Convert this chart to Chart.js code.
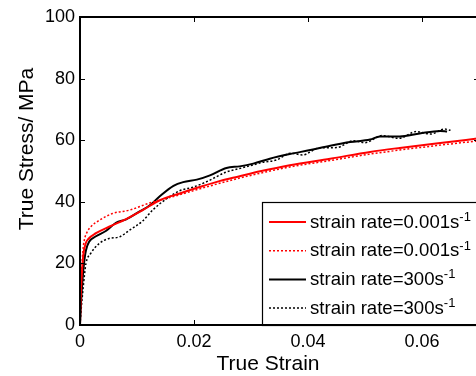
<!DOCTYPE html>
<html>
<head>
<meta charset="utf-8">
<script src="https://cdn.jsdelivr.net/npm/chart.js@4.4.0/dist/chart.umd.min.js"></script>
<style>
html, body { margin: 0; padding: 0; background: #fff; overflow: hidden; }
#wrap { width: 476px; height: 376px; overflow: hidden; }
canvas { display: block; }
</style>
</head>
<body>
<div id="wrap"><canvas id="stressChart" width="484" height="376"></canvas></div>
<script>
// Axis ticks
const strainTicks = [0, 0.02, 0.04, 0.06];
const stressTicks = [0, 20, 40, 60, 80, 100];

// Legend labels (superscript drawn separately)
const seriesLabels = ['strain rate=0.001s', 'strain rate=0.001s', 'strain rate=300s', 'strain rate=300s'];
const labelSup = '-1';

// Red solid - 0.001/s
const redSolidStrain = [0, 0.0001, 0.0003, 0.0006, 0.001, 0.0015, 0.0028, 0.0051, 0.0081, 0.011, 0.014, 0.0175, 0.021, 0.0246, 0.028, 0.0316, 0.0368, 0.0439, 0.0509, 0.0561, 0.0632, 0.07];
const redSolidStress = [0, 8, 16, 23, 26.5, 28, 29.8, 31.9, 34.4, 37.3, 40.5, 42.7, 44.8, 46.8, 48.3, 49.9, 51.9, 54, 56.2, 57.5, 59.1, 60.6];

// Red dotted - 0.001/s
const redDotStrain = [0, 0.0001, 0.0003, 0.0005, 0.00075, 0.0012, 0.0019, 0.0034, 0.0057, 0.0087, 0.0122, 0.016, 0.021, 0.028, 0.0368, 0.0439, 0.0509, 0.0561, 0.0632, 0.07];
const redDotStress = [0, 9, 18, 24, 27.5, 30, 31.9, 34, 36.2, 37.3, 39.6, 41.5, 44.2, 47.7, 51.3, 53.4, 55.5, 56.8, 58.4, 59.8];

// Black solid - 300/s
const blackSolidStrain = [0, 0.0002, 0.0005, 0.0008, 0.00105, 0.0016, 0.0028, 0.0046, 0.0063, 0.0081, 0.0104, 0.0122, 0.014, 0.0164, 0.0181, 0.0205, 0.0228, 0.0257, 0.028, 0.0304, 0.0333, 0.0368, 0.0404, 0.0439, 0.0474, 0.0509, 0.0526, 0.0561, 0.0596, 0.0632, 0.0644];
const blackSolidStress = [0, 8, 16, 21.5, 24.3, 27, 28.8, 30.6, 33.2, 34.3, 36.8, 38.8, 41.8, 45.2, 46.4, 47.2, 48.6, 51, 51.5, 52.4, 54, 55.5, 56.8, 58.2, 59.4, 60.2, 61.2, 61.2, 62.2, 63, 62.8];

// Black dotted - 300/s
const blackDotStrain = [0, 0.0002, 0.0005, 0.0008, 0.00105, 0.0019, 0.0034, 0.0051, 0.0069, 0.0087, 0.011, 0.0129, 0.0152, 0.0175, 0.0199, 0.0222, 0.0257, 0.028, 0.0304, 0.032, 0.0345, 0.037, 0.039, 0.042, 0.045, 0.048, 0.05, 0.053, 0.056, 0.059, 0.0615, 0.064, 0.065];
const blackDotStress = [0, 5, 11, 16.5, 20, 23.3, 26.5, 28.1, 28.6, 30.8, 33.8, 37.6, 41, 43.6, 44.8, 46.5, 49.7, 50.8, 52, 52.8, 53.6, 55.8, 55.2, 57.5, 57.6, 59.8, 59.2, 61.5, 60.6, 62.8, 62, 63.6, 63.2];

const FONT = '"Liberation Sans", Arial, sans-serif';

function toPoints(xs, ys) {
    return xs.map((x, i) => ({ x: x, y: ys[i] }));
}

const seriesStyles = [
    { color: '#ff0000', width: 2, dash: [] },
    { color: '#ff0000', width: 1.5, dash: [2, 2] },
    { color: '#000000', width: 2, dash: [] },
    { color: '#000000', width: 1.5, dash: [2, 2] }
];

const seriesData = [
    toPoints(redSolidStrain, redSolidStress),
    toPoints(redDotStrain, redDotStress),
    toPoints(blackSolidStrain, blackSolidStress),
    toPoints(blackDotStrain, blackDotStress)
];

// Frame, inward ticks, titles and the boxed legend
const framePlugin = {
    id: 'frame',
    afterDraw(chart) {
        const { ctx, chartArea: a, scales: { x, y } } = chart;
        ctx.save();
        ctx.strokeStyle = '#000';
        ctx.lineWidth = 1;
        ctx.setLineDash([]);
        strainTicks.slice(1).forEach(v => {
            const px = Math.round(x.getPixelForValue(v)) + 0.5;
            ctx.beginPath();
            ctx.moveTo(px, a.bottom); ctx.lineTo(px, a.bottom - 5);
            ctx.moveTo(px, a.top); ctx.lineTo(px, a.top + 5);
            ctx.stroke();
        });
        stressTicks.slice(1, -1).forEach(v => {
            const py = Math.round(y.getPixelForValue(v)) + 0.5;
            ctx.beginPath();
            ctx.moveTo(a.left, py); ctx.lineTo(a.left + 5, py);
            ctx.moveTo(a.right, py); ctx.lineTo(a.right - 5, py);
            ctx.stroke();
        });

        // legend box
        const lx = 262, ly = 202;
        ctx.fillStyle = '#fff';
        ctx.fillRect(lx, ly, a.right - lx, a.bottom - ly);
        ctx.lineWidth = 1.2;
        ctx.strokeRect(lx + 0.5, ly + 0.5, a.right - lx, a.bottom - ly);

        seriesLabels.forEach((label, i) => {
            const rowY = 222 + i * 28.7;
            const st = seriesStyles[i];
            ctx.strokeStyle = st.color;
            ctx.lineWidth = st.width;
            ctx.setLineDash(st.dash);
            ctx.beginPath();
            ctx.moveTo(269, rowY); ctx.lineTo(306, rowY);
            ctx.stroke();
            ctx.setLineDash([]);
            ctx.fillStyle = '#000';
            ctx.textAlign = 'left';
            ctx.textBaseline = 'alphabetic';
            ctx.font = '18.6px ' + FONT;
            ctx.fillText(label, 310, rowY + 5.5);
            const w = ctx.measureText(label).width;
            ctx.font = '13px ' + FONT;
            ctx.fillText(labelSup, 310 + w, rowY - 1);
        });

        // axis titles
        ctx.fillStyle = '#000';
        ctx.font = '21px ' + FONT;
        ctx.textAlign = 'center';
        ctx.textBaseline = 'alphabetic';
        ctx.fillText('True Strain', 268, 370);
        ctx.translate(33, 149);
        ctx.rotate(-Math.PI / 2);
        ctx.fillText('True Stress/ MPa', 0, 0);

        // frame
        ctx.setTransform(1, 0, 0, 1, 0, 0);
        ctx.strokeStyle = '#000';
        ctx.lineWidth = 2;
        ctx.strokeRect(a.left, a.top, a.right - a.left, a.bottom - a.top);
        ctx.restore();
    }
};

new Chart(document.getElementById('stressChart').getContext('2d'), {
    type: 'line',
    data: {
        datasets: seriesData.map((pts, i) => ({
            label: seriesLabels[i],
            data: pts,
            borderColor: seriesStyles[i].color,
            borderWidth: seriesStyles[i].width,
            borderDash: seriesStyles[i].dash,
            pointRadius: 0,
            fill: false,
            cubicInterpolationMode: 'monotone'
        }))
    },
    options: {
        responsive: false,
        animation: false,
        layout: { padding: { top: 17, right: 5, left: 0, bottom: 0 } },
        plugins: {
            legend: { display: false },
            tooltip: { enabled: false }
        },
        scales: {
            x: {
                type: 'linear',
                min: 0,
                max: 0.07,
                afterBuildTicks: s => { s.ticks = strainTicks.map(v => ({ value: v })); },
                afterFit: s => { s.height = 51; },
                grid: { display: false, drawTicks: false },
                border: { display: false },
                ticks: {
                    color: '#000',
                    padding: 6,
                    maxRotation: 0,
                    font: { size: 18, family: FONT },
                    callback: v => (v === 0 ? '0' : v.toFixed(2))
                }
            },
            y: {
                min: 0,
                max: 100,
                afterBuildTicks: s => { s.ticks = stressTicks.map(v => ({ value: v })); },
                afterFit: s => { s.width = 80; },
                grid: { display: false, drawTicks: false },
                border: { display: false },
                ticks: {
                    color: '#000',
                    padding: 5,
                    font: { size: 18, family: FONT }
                }
            }
        }
    },
    plugins: [framePlugin]
});
</script>
</body>
</html>
